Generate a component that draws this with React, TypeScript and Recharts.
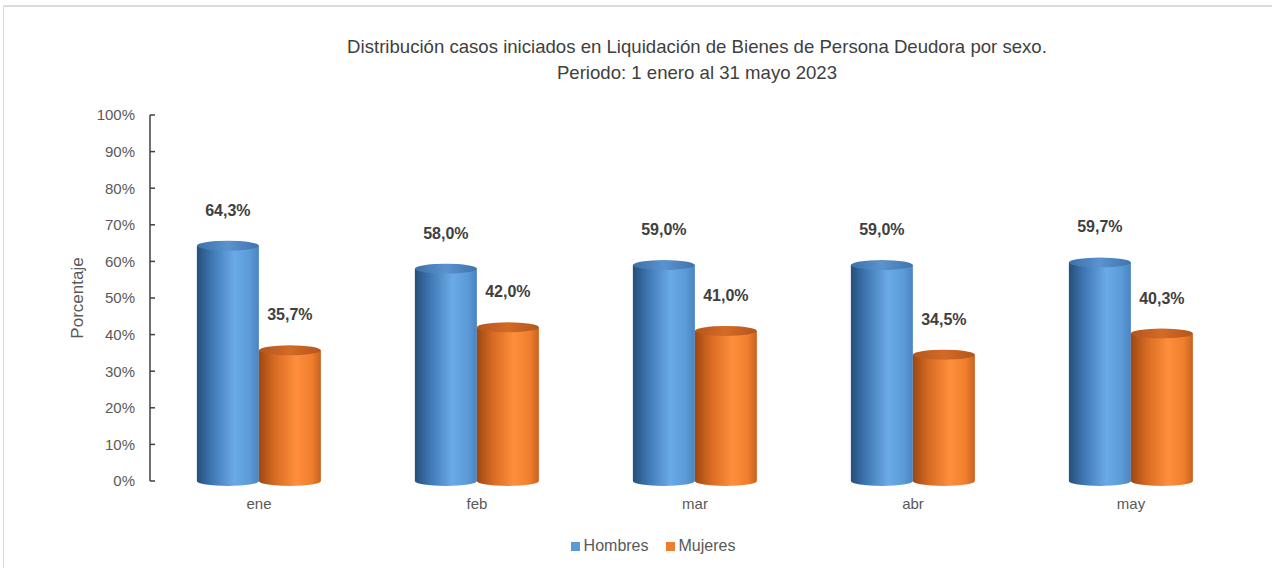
import { BarChart, Bar, XAxis, YAxis, Legend, LabelList } from 'recharts';

const MONTHS = ['ene', 'feb', 'mar', 'abr', 'may'];
const HOMBRES = [64.3, 58.0, 59.0, 59.0, 59.7];
const MUJERES = [35.7, 42.0, 41.0, 34.5, 40.3];
const Y_TICKS = [0, 10, 20, 30, 40, 50, 60, 70, 80, 90, 100];
const SERIES = [
  { key: 'hombres', name: 'Hombres', color: '#5b9bd5' },
  { key: 'mujeres', name: 'Mujeres', color: '#ed7d31' },
];

const chartData = MONTHS.map((mes, i) => ({
  mes,
  hombres: HOMBRES[i],
  mujeres: MUJERES[i],
}));

const FONT = '"Liberation Sans", Arial, sans-serif';
const TEXT_GREY = '#595959';

const fmtPct = (v: number) => `${v.toFixed(1).replace('.', ',')}%`;

// 3D-looking cylinder drawn from the bar's own geometry
function Cylinder(props: any) {
  const { x, y, width, height, bodyId, topId } = props;
  if (!width || height == null) return null;
  const rx = width / 2;
  const ry = 5;
  const cx = x + rx;
  const bottom = y + height;
  return (
    <g>
      <path
        d={`M${x},${y} L${x},${bottom} A${rx},${ry} 0 0 0 ${x + width},${bottom} L${x + width},${y} Z`}
        fill={`url(#${bodyId})`}
      />
      <ellipse cx={cx} cy={y} rx={rx} ry={ry} fill={`url(#${topId})`} />
    </g>
  );
}

function renderLegend() {
  return (
    <div
      style={{
        display: 'flex',
        justifyContent: 'center',
        alignItems: 'center',
        fontFamily: FONT,
        fontSize: 16,
        color: TEXT_GREY,
        paddingLeft: 34,
      }}
    >
      {SERIES.map((s, i) => (
        <div key={s.key} style={{ display: 'flex', alignItems: 'center', marginRight: i === 0 ? 17 : 0 }}>
          <span style={{ width: 9, height: 9, background: s.color, display: 'inline-block', marginRight: 4 }} />
          <span>{s.name}</span>
        </div>
      ))}
    </div>
  );
}

export default function App() {
  return (
    <div
      style={{
        position: 'absolute',
        left: 0,
        top: 0,
        width: 1272,
        height: 568,
        overflow: 'hidden',
        background: '#fff',
      }}
    >
      <div
        style={{
          position: 'absolute',
          left: 3,
          top: 5,
          width: 1300,
          height: 600,
          borderTop: '2px solid #dcdcdc',
          borderLeft: '1px solid #dcdcdc',
        }}
      />
      <div
        style={{
          position: 'absolute',
          left: 247,
          top: 34,
          width: 900,
          textAlign: 'center',
          fontFamily: FONT,
          fontSize: 18.6,
          lineHeight: '26px',
          color: '#404040',
        }}
      >
        Distribución casos iniciados en Liquidación de Bienes de Persona Deudora por sexo.
        <br />
        Periodo: 1 enero al 31 mayo 2023
      </div>
      <div style={{ position: 'absolute', left: 0, top: 0 }}>
        <BarChart
          width={1272}
          height={568}
          data={chartData}
          margin={{ top: 115, right: 32, bottom: 57, left: 70 }}
          barGap={0}
          barCategoryGap="21.5%"
        >
          <defs>
            <linearGradient id="bodyH" x1="0" y1="0" x2="1" y2="0">
              <stop offset="0%" stopColor="#244f7a" />
              <stop offset="25%" stopColor="#3f78b4" />
              <stop offset="60%" stopColor="#6aaae6" />
              <stop offset="85%" stopColor="#5b9bd8" />
              <stop offset="100%" stopColor="#4a84c0" />
            </linearGradient>
            <linearGradient id="topH" x1="0" y1="0" x2="1" y2="0">
              <stop offset="0%" stopColor="#3d70a8" />
              <stop offset="50%" stopColor="#5a93cf" />
              <stop offset="100%" stopColor="#3f74ad" />
            </linearGradient>
            <linearGradient id="bodyM" x1="0" y1="0" x2="1" y2="0">
              <stop offset="0%" stopColor="#9c4712" />
              <stop offset="25%" stopColor="#d66a22" />
              <stop offset="60%" stopColor="#ff8f3c" />
              <stop offset="85%" stopColor="#f07e2e" />
              <stop offset="100%" stopColor="#c9621f" />
            </linearGradient>
            <linearGradient id="topM" x1="0" y1="0" x2="1" y2="0">
              <stop offset="0%" stopColor="#b4561c" />
              <stop offset="50%" stopColor="#d46a26" />
              <stop offset="100%" stopColor="#b3561c" />
            </linearGradient>
          </defs>
          <XAxis
            dataKey="mes"
            axisLine={false}
            tickLine={false}
            tickSize={0}
            tickMargin={17}
            height={30}
            tick={{ fill: TEXT_GREY, fontSize: 15, fontFamily: FONT }}
          />
          <YAxis
            width={80}
            domain={[0, 100]}
            ticks={Y_TICKS}
            interval={0}
            tickFormatter={(v: number) => `${v}%`}
            axisLine={{ stroke: '#404040', strokeWidth: 1.5 }}
            tickLine={{ stroke: '#404040', strokeWidth: 1.5 }}
            tickSize={-5}
            tickMargin={20}
            tick={{ fill: TEXT_GREY, fontSize: 15, fontFamily: FONT }}
            label={{
              value: 'Porcentaje',
              angle: -90,
              position: 'insideLeft',
              dx: 2,
              textAnchor: 'middle',
              fill: TEXT_GREY,
              fontSize: 17,
              fontFamily: FONT,
            }}
          />
          <Legend
            layout="horizontal"
            verticalAlign="middle"
            align="center"
            content={renderLegend}
            wrapperStyle={{ top: 537, left: 0, width: 1272 }}
          />
          <Bar
            dataKey="hombres"
            name="Hombres"
            fill={SERIES[0].color}
            isAnimationActive={false}
            shape={(p: any) => <Cylinder {...p} bodyId="bodyH" topId="topH" />}
          >
            <LabelList
              dataKey="hombres"
              position="top"
              offset={30}
              formatter={(v: any) => fmtPct(Number(v))}
              style={{ fill: '#404040', fontSize: 16, fontWeight: 700, fontFamily: FONT }}
            />
          </Bar>
          <Bar
            dataKey="mujeres"
            name="Mujeres"
            fill={SERIES[1].color}
            isAnimationActive={false}
            shape={(p: any) => <Cylinder {...p} bodyId="bodyM" topId="topM" />}
          >
            <LabelList
              dataKey="mujeres"
              position="top"
              offset={30}
              formatter={(v: any) => fmtPct(Number(v))}
              style={{ fill: '#404040', fontSize: 16, fontWeight: 700, fontFamily: FONT }}
            />
          </Bar>
        </BarChart>
      </div>
    </div>
  );
}
